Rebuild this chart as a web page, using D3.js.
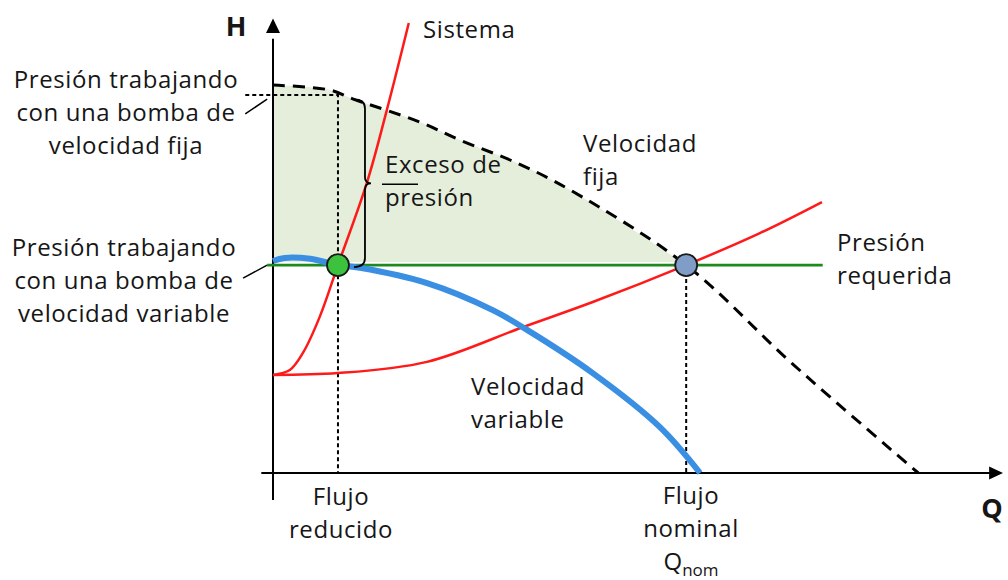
<!DOCTYPE html>
<html>
<head>
<meta charset="utf-8">
<script src="https://cdn.jsdelivr.net/npm/d3@7"></script>
<style>
  body { margin: 0; background: #fff; }
  text { font-family: "Open Sans", sans-serif; fill: #161616; }
</style>
</head>
<body>
<div class="chart"></div>
<script>
// Curve values (Q = flow, H = head, arbitrary units 0-100)
const fixedQ = [0, 7.8, 11.0, 20.1, 25.6, 33.4, 40.7, 56.6, 71.2, 88.4];
const fixedH = [86.2, 85.1, 83.1, 78.0, 74.0, 68.9, 62.9, 46.2, 24.2, 0];

const variableQ = [0, 1.6, 5.1, 8.9, 11.9, 21.1, 30.1, 34.8, 43.8, 53.0, 58.5];
const variableH = [47.1, 47.8, 47.6, 46.2, 45.6, 42.2, 36.2, 31.8, 22.2, 10.2, 0];

const systemQ = [0, 8.9, 21.1, 34.2, 43.8, 56.6, 66.7, 75.2];
const systemH = [21.8, 22.2, 24.7, 32.4, 38.0, 46.2, 53.3, 60.2];

const steepQ = [0, 2.3, 4.1, 6.4, 8.9, 12.9, 15.6, 18.6];
const steepH = [21.8, 22.9, 26.7, 34.7, 46.2, 64.7, 80.7, 100];

const requiredH = 46.2;
const requiredRange = [-0.8, 75.3];
const reducedQ = 8.9;
const nominalQ = 56.6;
const fixedHeadAtReduced = 84.0;

const zip = (qs, hs) => qs.map((q, i) => ({ q: q, h: hs[i] }));

const width = 1008, height = 580;

const svg = d3.select(".chart").append("svg")
    .attr("width", width)
    .attr("height", height);

const x = d3.scaleLinear().domain([0, 100]).range([273, 1003]);
const y = d3.scaleLinear().domain([0, 100]).range([473, 23]);

const line = d3.line()
    .x(d => x(d.q))
    .y(d => y(d.h))
    .curve(d3.curveCatmullRom.alpha(0.5));

// shaded excess pressure area
const fixedPts = zip(fixedQ, fixedH);
const shadePts = fixedPts.filter(d => d.q <= nominalQ);
svg.append("path")
    .datum(shadePts)
    .attr("fill", "#e4eedb")
    .attr("d", d3.area()
        .x(d => x(d.q))
        .y0(y(requiredH) - 3)
        .y1(d => y(d.h))
        .curve(d3.curveCatmullRom.alpha(0.5)));

// axes
svg.append("line")
    .attr("x1", x(0)).attr("x2", x(0))
    .attr("y1", y(-6)).attr("y2", y(96.5))
    .attr("stroke", "#000").attr("stroke-width", 2);
svg.append("path")
    .attr("d", `M${x(0)},${y(101)} L${x(0) - 7},${y(97.8)} L${x(0) + 7},${y(97.8)} Z`)
    .attr("fill", "#000");

svg.append("line")
    .attr("x1", x(-1.6)).attr("x2", x(98.5))
    .attr("y1", y(0)).attr("y2", y(0))
    .attr("stroke", "#000").attr("stroke-width", 2);
svg.append("path")
    .attr("d", `M${x(100)},${y(0)} L${x(98.1)},${y(0) - 6.5} L${x(98.1)},${y(0) + 6.5} Z`)
    .attr("fill", "#000");

// guide lines at reduced and nominal flow
svg.append("path")
    .attr("d", `M${x(-3.8)},${y(fixedHeadAtReduced)} L${x(reducedQ)},${y(fixedHeadAtReduced)} L${x(reducedQ)},${y(0)}`)
    .attr("fill", "none")
    .attr("stroke", "#000")
    .attr("stroke-width", 2)
    .attr("stroke-dasharray", "4,3");

svg.append("line")
    .attr("x1", x(nominalQ)).attr("x2", x(nominalQ))
    .attr("y1", y(requiredH)).attr("y2", y(0))
    .attr("stroke", "#000")
    .attr("stroke-width", 2)
    .attr("stroke-dasharray", "4,3");

// fixed speed curve
svg.append("path")
    .datum(fixedPts)
    .attr("fill", "none")
    .attr("stroke", "#000")
    .attr("stroke-width", 3)
    .attr("stroke-dasharray", "12,8")
    .attr("d", line);

// required pressure
svg.append("line")
    .attr("x1", x(requiredRange[0])).attr("x2", x(requiredRange[1]))
    .attr("y1", y(requiredH)).attr("y2", y(requiredH))
    .attr("stroke", "#1e8a1e").attr("stroke-width", 2.6);

// system curves
[zip(systemQ, systemH), zip(steepQ, steepH)].forEach(pts => {
    svg.append("path")
        .datum(pts)
        .attr("fill", "none")
        .attr("stroke", "#ff1a1a")
        .attr("stroke-width", 2.5)
        .attr("d", line);
});

// variable speed curve
svg.append("path")
    .datum(zip(variableQ, variableH))
    .attr("fill", "none")
    .attr("stroke", "#3a8fe3")
    .attr("stroke-width", 6)
    .attr("d", line);

// operating points
svg.append("circle")
    .attr("cx", x(reducedQ)).attr("cy", y(requiredH)).attr("r", 11)
    .attr("fill", "#3cc23c").attr("stroke", "#1a1a1a").attr("stroke-width", 1.8);
svg.append("circle")
    .attr("cx", x(nominalQ)).attr("cy", y(requiredH)).attr("r", 11)
    .attr("fill", "#7f9dc6").attr("stroke", "#1a1a1a").attr("stroke-width", 1.8);

// brace for excess pressure
const bx = x(12.6), bTop = y(83.0), bBot = y(requiredH) + 2, bMid = (bTop + bBot) / 2;
svg.append("path")
    .attr("d", `M${bx - 11},${bTop} Q${bx},${bTop} ${bx},${bTop + 9} L${bx},${bMid - 6} Q${bx},${bMid} ${bx + 6},${bMid}` +
        ` Q${bx},${bMid} ${bx},${bMid + 6} L${bx},${bBot - 9} Q${bx},${bBot} ${bx - 11},${bBot}`)
    .attr("fill", "none")
    .attr("stroke", "#000")
    .attr("stroke-width", 1.8);
svg.append("line")
    .attr("x1", bx + 17).attr("x2", bx + 53)
    .attr("y1", bMid + 1).attr("y2", bMid + 1)
    .attr("stroke", "#000").attr("stroke-width", 1.5);

// leader lines for left labels
svg.append("line")
    .attr("x1", x(-3.8)).attr("y1", y(79.8))
    .attr("x2", x(-0.8)).attr("y2", y(83.1))
    .attr("stroke", "#000").attr("stroke-width", 1.5);
svg.append("line")
    .attr("x1", x(-4.1)).attr("y1", y(43.3))
    .attr("x2", x(-0.8)).attr("y2", y(requiredH))
    .attr("stroke", "#000").attr("stroke-width", 1.5);

// text labels
function label(lines, px, py, anchor) {
    const t = svg.append("text")
        .attr("text-anchor", anchor || "start")
        .attr("font-size", 24)
        .attr("letter-spacing", 0.6);
    lines.forEach((s, i) => {
        t.append("tspan").attr("x", px).attr("y", py + i * 33).text(s);
    });
    return t;
}

label(["Presión trabajando", "con una bomba de", "velocidad fija"], 126, 88, "middle");
label(["Presión trabajando", "con una bomba de", "velocidad variable"], 124, 256, "middle");
label(["Sistema"], 423, 38);
label(["Velocidad", "fija"], 583, 152);
label(["Presión", "requerida"], 837, 251);
label(["Velocidad", "variable"], 471, 395);
label(["Exceso de", "presión"], 385, 173);
label(["Flujo", "reducido"], 341, 505, "middle");
label(["Flujo", "nominal"], 691, 504, "middle");

const qnom = svg.append("text")
    .attr("x", 691).attr("y", 570)
    .attr("text-anchor", "middle")
    .attr("font-size", 24);
qnom.append("tspan").text("Q");
qnom.append("tspan").attr("font-size", 17).attr("dy", 6).text("nom");

svg.append("text")
    .attr("x", 236).attr("y", 36)
    .attr("text-anchor", "middle")
    .attr("font-family", "Liberation Sans, Arial, sans-serif")
    .attr("font-weight", "bold")
    .attr("font-size", 27)
    .text("H");
svg.append("text")
    .attr("x", 992).attr("y", 518)
    .attr("text-anchor", "middle")
    .attr("font-family", "Liberation Sans, Arial, sans-serif")
    .attr("font-weight", "bold")
    .attr("font-size", 27)
    .text("Q");
</script>
</body>
</html>
